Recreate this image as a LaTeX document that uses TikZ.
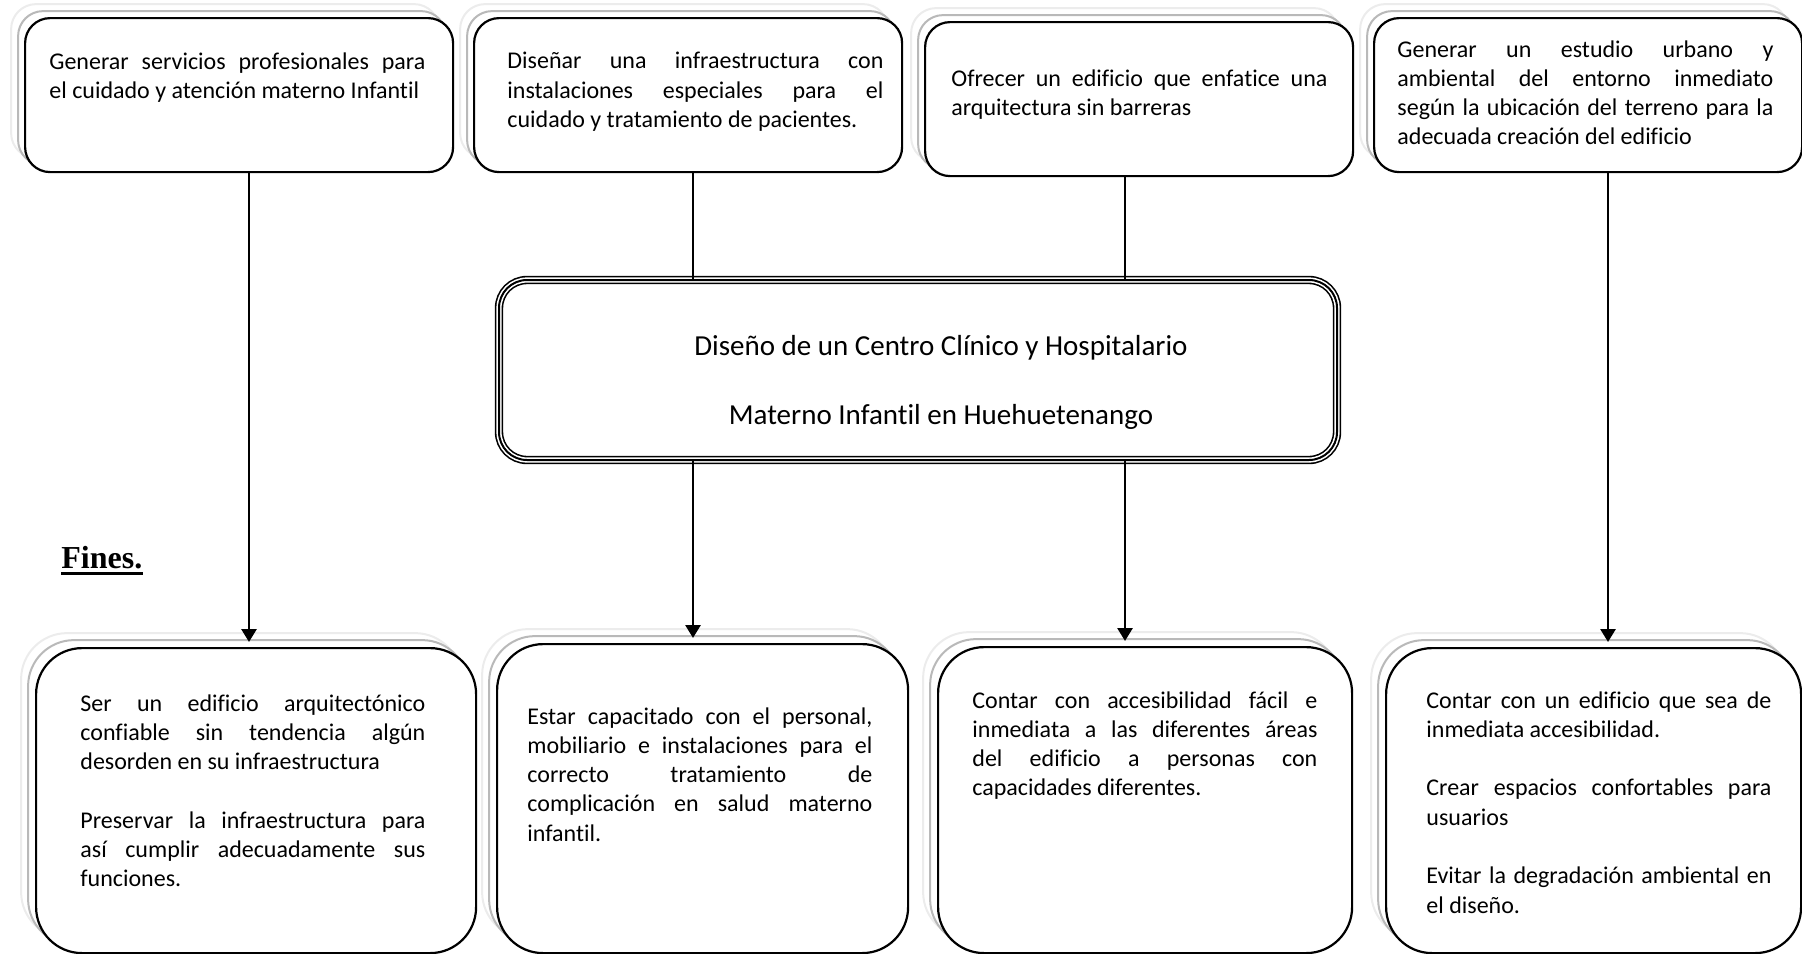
\documentclass[tikz,border=0pt]{standalone}
\usepackage{fontspec}
\setmainfont{Carlito}[Ligatures=NoCommon]
\newfontfamily\finesfont{Liberation Serif}
\usetikzlibrary{arrows.meta,calc,positioning,shadows}

\hyphenpenalty=10000
\exhyphenpenalty=10000
\tolerance=10000
\hbadness=10000

\tikzset{
	caja/.style={draw, line width=1.1pt, fill=white, inner sep=0pt, anchor=north west},
	meta/.style={caja, minimum width=214pt, minimum height=77pt, rounded corners=12.5pt,
		general shadow={shadow xshift=-7pt, shadow yshift=7pt, draw=gray!15, fill=white, line width=1pt},
		general shadow={shadow xshift=-3.5pt, shadow yshift=3.5pt, draw=gray!55, fill=white, line width=1pt}},
	fin/.style={caja, minimum height=152.5pt, rounded corners=23pt,
		general shadow={shadow xshift=-7.5pt, shadow yshift=7.5pt, draw=gray!15, fill=white, line width=1pt},
		general shadow={shadow xshift=-4pt, shadow yshift=4pt, draw=gray!55, fill=white, line width=1pt}},
	centro/.style={draw, line width=1pt, inner sep=0pt, anchor=north west,
		minimum width=419pt, minimum height=90pt, rounded corners=14pt,
		preaction={draw, fill=white, line width=4.2pt},
		preaction={draw=white, line width=2.6pt}},
	texto/.style={inner sep=0pt, text width=188pt, align=justify,
		font=\fontsize{12pt}{14.65pt}\selectfont},
	textofin/.style={texto, text width=172.5pt},
	linea/.style={line width=1.4pt},
	flecha/.style={linea, -{Triangle[width=7.5pt,length=6.5pt]}, shorten >=2.5pt},
}

\begin{document}
\begin{tikzpicture}[x=0.5pt, y=-0.5pt]
	\useasboundingbox (0,0) rectangle (1802,953);
	
	% objetivos (arriba)
	\node[meta] (g1) at (24,17) {};
	\node[meta] (g2) at (473,17) {};
	\node[meta] (g3) at (924,21) {};
	\node[meta] (g4) at (1373,17) {};
	
	% fines (abajo)
	\node[fin, minimum width=220pt] (r1) at (35,647) {};
	\node[fin, minimum width=205.5pt, minimum height=154.5pt] (r2) at (496,643) {};
	\node[fin, minimum width=207pt, minimum height=153pt] (r3) at (937,646) {};
	\node[fin, minimum width=207.5pt] (r4) at (1385,647) {};
	
	% proyecto
	\node[centro] (proy) at (498,279) {};
	\node[font=\fontsize{14.5pt}{17.25pt}\selectfont, align=center] (titulo) at ($(proy.center)+(23,12)$)
		{Diseño de un Centro Clínico y Hospitalario\\[17.25pt]Materno Infantil en Huehuetenango};
	
	\node[texto, below right=17.5pt and 12.5pt of g1.north west] (t1)
		{Generar servicios profesionales para\linebreak el cuidado y atención materno Infantil};
	\node[texto, below right=17.5pt and 17pt of g2.north west] (t2)
		{Diseñar una infraestructura con\linebreak instalaciones especiales para el\linebreak cuidado y tratamiento de pacientes.};
	\node[texto, below right=24pt and 13.5pt of g3.north west] (t3)
		{Ofrecer un edificio que enfatice una\linebreak arquitectura sin barreras};
	\node[texto, below right=11.5pt and 12pt of g4.north west] (t4)
		{Generar un estudio urbano y\linebreak ambiental del entorno inmediato\linebreak según la ubicación del terreno para la\linebreak adecuada creación del edificio};
	
	\node[textofin, below right=23.5pt and 22.5pt of r1.north west] (t5)
		{Ser un edificio arquitectónico\linebreak confiable sin tendencia algún\linebreak desorden en su infraestructura\par\vspace{14.65pt}
		Preservar la infraestructura para\linebreak así cumplir adecuadamente sus\linebreak funciones.};
	\node[textofin, below right=32pt and 15.5pt of r2.north west] (t6)
		{Estar capacitado con el personal,\linebreak mobiliario e instalaciones para el\linebreak correcto tratamiento de\linebreak complicación en salud materno\linebreak infantil.};
	\node[textofin, below right=22.5pt and 17.5pt of r3.north west] (t7)
		{Contar con accesibilidad fácil e\linebreak inmediata a las diferentes áreas\linebreak del edificio a personas con\linebreak capacidades diferentes.};
	\node[textofin, below right=22pt and 20.5pt of r4.north west] (t8)
		{Contar con un edificio que sea de\linebreak inmediata accesibilidad.\par\vspace{14.65pt}
		Crear espacios confortables para\linebreak usuarios\par\vspace{14.65pt}
		Evitar la degradación ambiental en\linebreak el diseño.};
	
	\node[font=\finesfont\bfseries\fontsize{16pt}{19pt}\selectfont, inner sep=0pt, anchor=base west] (fines) at (61,568) {Fines.};
	\draw[line width=1.5pt] ($(fines.base west)+(0,5.5)$) -- ($(fines.base east)+(0,5.5)$);
	
	% columnas de los conectores
	\coordinate (k1) at (249,0);
	\coordinate (k2) at (693,0);
	\coordinate (k3) at (1125,0);
	\coordinate (k4) at (1608,0);
	
	\draw[flecha] (g1.south -| k1) -- (r1.north -| k1);
	\draw[linea] (g2.south -| k2) -- (proy.north -| k2);
	\draw[flecha] (proy.south -| k2) -- (r2.north -| k2);
	\draw[linea] (g3.south -| k3) -- (proy.north -| k3);
	\draw[flecha] (proy.south -| k3) -- (r3.north -| k3);
	\draw[flecha] (g4.south -| k4) -- (r4.north -| k4);
\end{tikzpicture}
\end{document}
